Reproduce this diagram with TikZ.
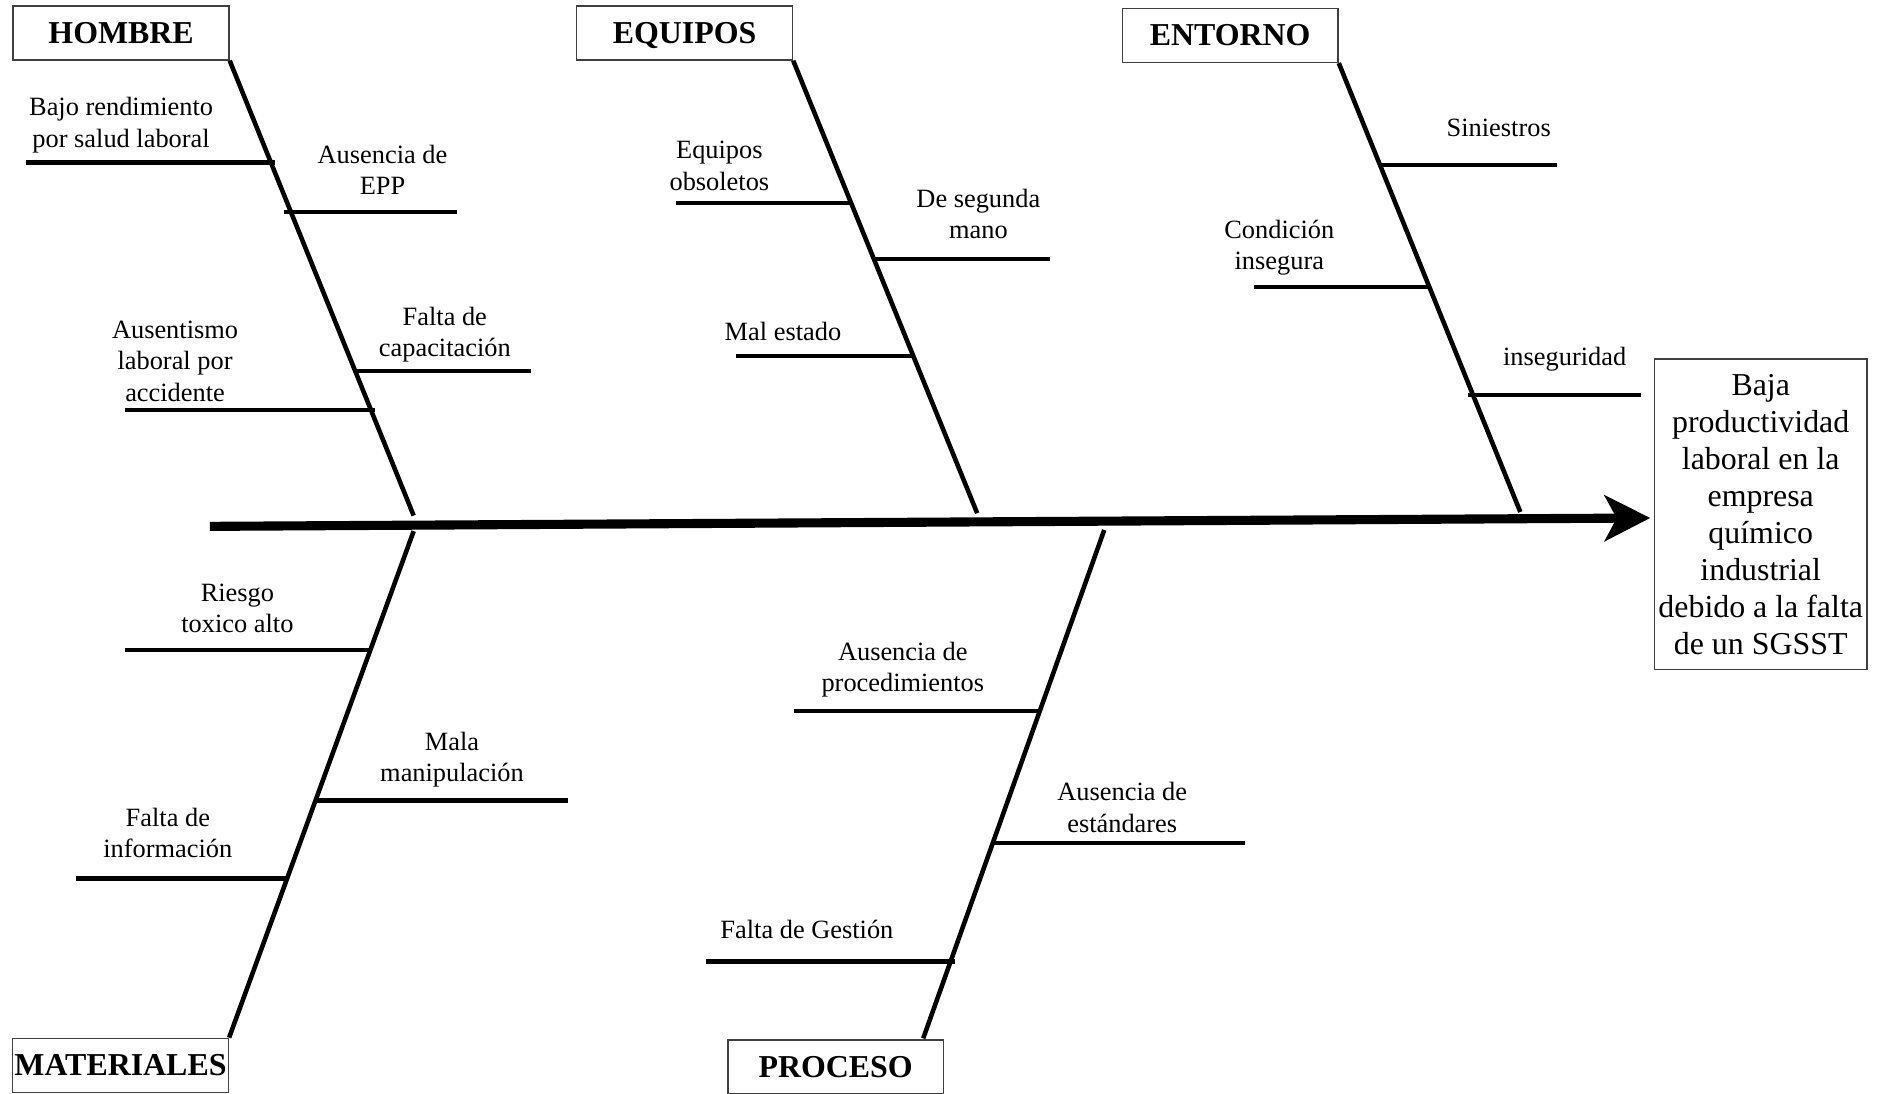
\documentclass[tikz,border=0pt]{standalone}
\usepackage{fontspec}
\setmainfont{Liberation Serif}
\usetikzlibrary{arrows.meta,calc}

\begin{document}
\begin{tikzpicture}[
        x=0.5pt, y=-0.5pt,
        >=Stealth,
        cat/.style={rectangle,draw=black!75,line width=0.6pt,minimum width=90pt,minimum height=22.5pt,inner sep=0pt,text height=10.4pt,text depth=1.6pt,font=\fontsize{13.3}{15}\selectfont\bfseries},
        cause/.style={align=center,inner sep=0pt,yshift=-1.2pt,font=\fontsize{11}{13}\selectfont},
        effect/.style={rectangle,draw=black!75,line width=0.6pt,minimum width=88.5pt,minimum height=129.5pt,inner sep=1pt,align=center,font=\fontsize{13.3}{15.4}\selectfont},
        bone/.style={line width=1.9pt},
        rib/.style={line width=1.8pt},
        spine/.style={line width=3.8pt,-{Stealth[length=19pt,width=19pt,inset=5pt]}}
    ]
        \useasboundingbox (0,0) rectangle (1568,912);

        % categories and effect
        \node[cat] (hombre) at (101,27.5) {HOMBRE};
        \node[cat] (equipos) at (571,27.5) {EQUIPOS};
        \node[cat] (entorno) at (1026,29.5) {ENTORNO};
        \node[cat] (materiales) at (100.5,888.5) {MATERIALES};
        \node[cat] (proceso) at (697,890) {PROCESO};
        \node[effect] (efecto) at (1468.5,429) {Baja\\productividad\\laboral en la\\empresa\\químico\\industrial\\debido a la falta\\de un SGSST};

        % main spine
        \coordinate (cola) at (175,439);
        \draw[spine] (cola) -- ($(efecto.west)+(-3,3)$);

        % bones
        \coordinate (h0) at (345,430);
        \coordinate (e0) at (815,428);
        \coordinate (n0) at (1268,427);
        \coordinate (m0) at (345,443);
        \coordinate (p0) at (921,442);
        \coordinate (p1) at (770,866);
        \draw[bone] (hombre.south east) -- (h0);
        \draw[bone] (equipos.south east) -- (e0);
        \draw[bone] (entorno.south east) -- (n0);
        \draw[bone] (m0) -- (materiales.north east);
        \draw[bone] (p0) -- (p1);

        % HOMBRE
        \draw[rib] ($(hombre.south east)!.224!(h0)$) ++(3,0) -- ++(-207,0);
        \draw[rib] ($(hombre.south east)!.332!(h0)$) ++(-6,0) -- ++(145,0);
        \draw[rib] ($(hombre.south east)!.682!(h0)$) -- ++(147,0);
        \draw[rib] ($(hombre.south east)!.768!(h0)$) ++(3,0) -- ++(-208,0);
        \node[cause] (bajo) at (101,102) {Bajo rendimiento\\por salud laboral};
        \node[cause] (epp) at (319,139.5) {Ausencia de\\EPP};
        \node[cause] (capac) at (371,277) {Falta de\\capacitación};
        \node[cause] (ausent) at (146,299) {Ausentismo\\laboral por\\accidente};

        % EQUIPOS
        \draw[rib] ($(equipos.south east)!.315!(e0)$) -- ++(-146,0);
        \draw[rib] ($(equipos.south east)!.439!(e0)$) -- ++(147,0);
        \draw[rib] ($(equipos.south east)!.653!(e0)$) -- ++(-148,0);
        \node[cause] (obsol) at (600,136) {Equipos\\obsoletos};
        \node[cause] (segunda) at (816,176) {De segunda\\mano};
        \node[cause] (malest) at (653,274) {Mal estado};

        % ENTORNO
        \draw[rib] ($(entorno.south east)!.227!(n0)$) -- ++(148,0);
        \draw[rib] ($(entorno.south east)!.499!(n0)$) -- ++(-146,0);
        \draw[rib] ($(entorno.south east)!.739!(n0)$) ++(-4,0) -- ++(144,0);
        \node[cause] (sinies) at (1250,104) {Siniestros};
        \node[cause] (condic) at (1067,204) {Condición\\insegura};
        \node[cause] (insegur) at (1305,297) {inseguridad};

        % MATERIALES
        \draw[rib] ($(m0)!.234!(materiales.north east)$) -- ++(-205,0);
        \draw[rib] ($(m0)!.532!(materiales.north east)$) -- ++(211,0);
        \draw[rib] ($(m0)!.686!(materiales.north east)$) -- ++(-176,0);
        \node[cause] (riesgo) at (198,505) {Riesgo\\toxico alto};
        \node[cause] (manip) at (377,631) {Mala\\manipulación};
        \node[cause] (info) at (140,692) {Falta de\\información};

        % PROCESO
        \draw[rib] ($(p0)!.356!(p1)$) -- ++(-205,0);
        \draw[rib] ($(p0)!.616!(p1)$) -- ++(210,0);
        \draw[rib] ($(p0)!.849!(p1)$) ++(4,0) -- ++(-208,0);
        \node[cause] (proced) at (753,556) {Ausencia de\\procedimientos};
        \node[cause] (estand) at (936,671) {Ausencia de\\estándares};
        \node[cause] (gestion) at (673,773) {Falta de Gestión};
    \end{tikzpicture}
\end{document}
